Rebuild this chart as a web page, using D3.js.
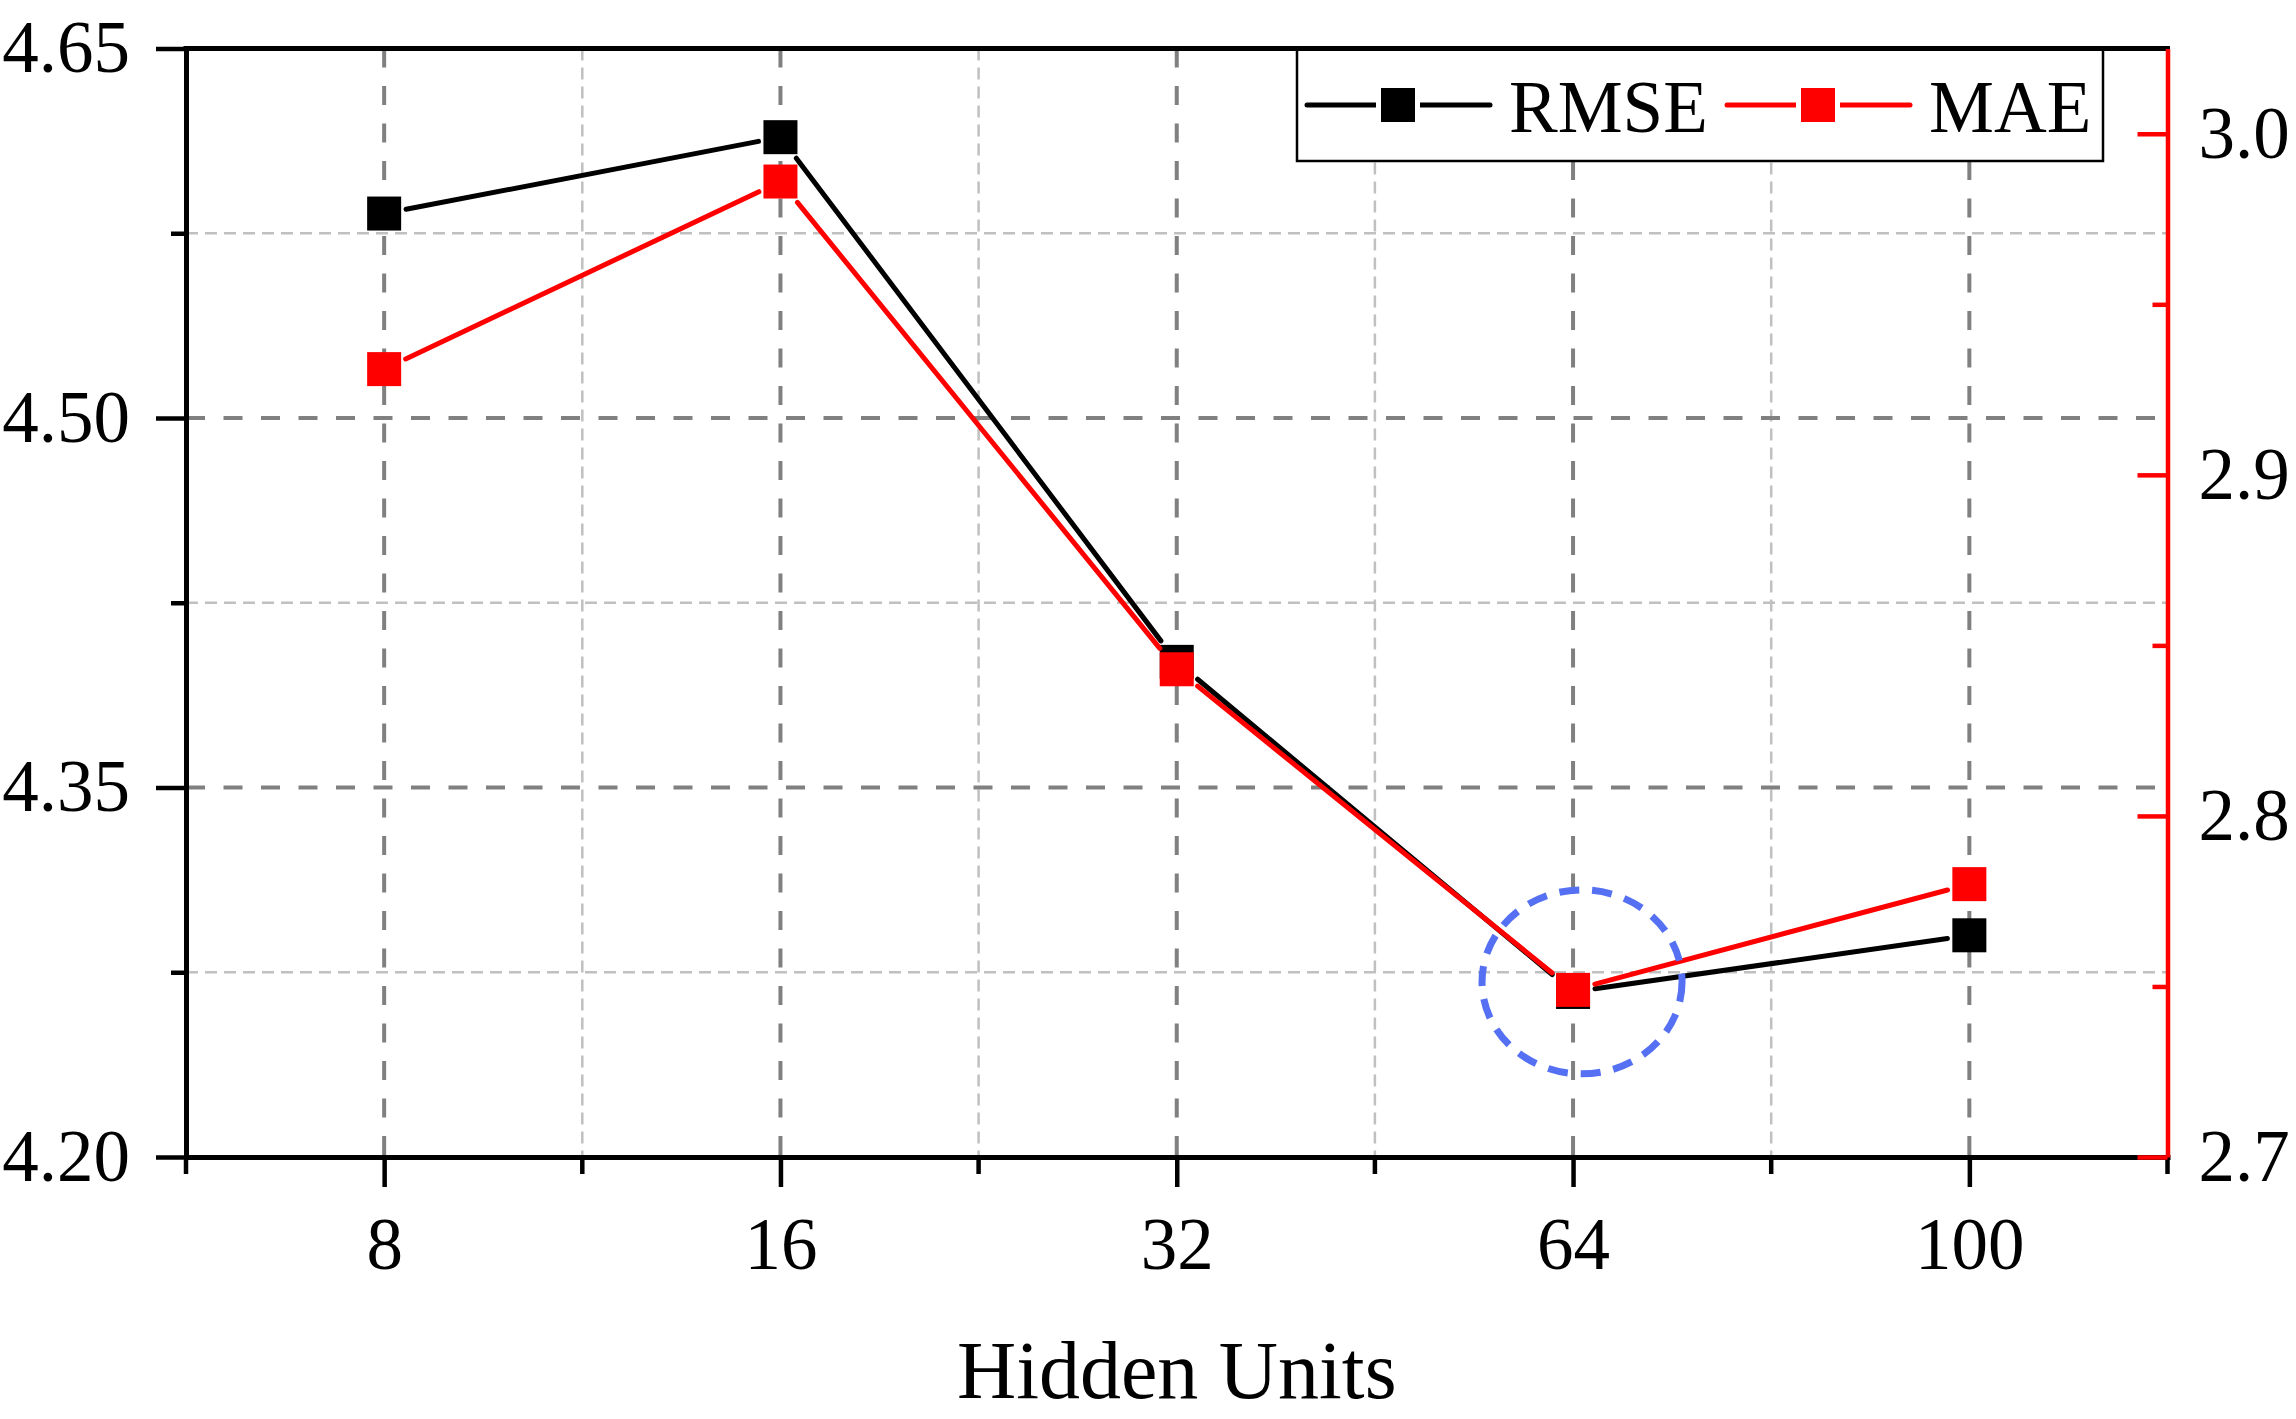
<!DOCTYPE html>
<html>
<head>
<meta charset="utf-8">
<script src="https://cdn.jsdelivr.net/npm/d3@7"></script>
<style>
  body { margin: 0; background: #fff; }
  svg { display: block; }
  text { font-family: "Liberation Serif", "Times New Roman", serif; fill: #000; }
</style>
</head>
<body>
<svg id="chart" width="2296" height="1419"></svg>
<script>
// values
var categories = ["8", "16", "32", "64", "100"];
var rmse = [4.583, 4.614, 4.401, 4.267, 4.290];
var mae = [2.931, 2.986, 2.843, 2.749, 2.780];

var leftTicks = [4.20, 4.35, 4.50, 4.65];
var leftMinor = [4.275, 4.425, 4.575];
var rightTicks = [2.7, 2.8, 2.9, 3.0];
var rightMinor = [2.75, 2.85, 2.95];

var seriesNames = ["RMSE", "MAE"];
var seriesColors = ["#000000", "#ff0000"];
var highlight = "64";

var svg = d3.select("#chart");

var plotL = 186, plotR = 2167.5, plotT = 48.5, plotB = 1157;
var half = 17, gap = 5;

var x = d3.scalePoint().domain(categories).range([plotL, plotR]).padding(0.5);
var yL = d3.scaleLinear().domain([4.20, 4.65]).range([plotB, plotT]);
var yR = d3.scaleLinear().domain([2.7, 3.025]).range([plotB, plotT]);

var minorX = categories.map(function(c) { return x(c) - x.step() / 2; });
var innerMinorX = minorX.slice(1);
minorX.push(plotR);

// grid
var grid = svg.append("g");

grid.selectAll(".vminor").data(innerMinorX).enter().append("line")
  .attr("x1", function(d) { return d; }).attr("x2", function(d) { return d; })
  .attr("y1", plotT).attr("y2", plotB)
  .attr("stroke", "#c0c0c0").attr("stroke-width", 2.5).attr("stroke-dasharray", "12 7");

grid.selectAll(".hminor").data(leftMinor).enter().append("line")
  .attr("x1", plotL).attr("x2", plotR)
  .attr("y1", function(d) { return yL(d); }).attr("y2", function(d) { return yL(d); })
  .attr("stroke", "#c0c0c0").attr("stroke-width", 2.5).attr("stroke-dasharray", "12 7");

grid.selectAll(".vmajor").data(categories).enter().append("line")
  .attr("x1", function(d) { return x(d); }).attr("x2", function(d) { return x(d); })
  .attr("y1", plotT).attr("y2", plotB)
  .attr("stroke", "#808080").attr("stroke-width", 4).attr("stroke-dasharray", "19 18.5");

grid.selectAll(".hmajor").data(leftTicks.slice(1, -1)).enter().append("line")
  .attr("x1", plotL).attr("x2", plotR)
  .attr("y1", function(d) { return yL(d); }).attr("y2", function(d) { return yL(d); })
  .attr("stroke", "#808080").attr("stroke-width", 4).attr("stroke-dasharray", "19 18.5");

// series
var trim = function(a, b) {
  var dx = b[0] - a[0], dy = b[1] - a[1];
  var len = Math.sqrt(dx * dx + dy * dy);
  var ux = dx / len, uy = dy / len;
  var d = half / Math.max(Math.abs(ux), Math.abs(uy)) + gap;
  return [a[0] + ux * d, a[1] + uy * d, b[0] - ux * d, b[1] - uy * d];
};

var drawSeries = function(vals, yScale, color) {
  var layer = svg.append("g");
  var pts = categories.map(function(c, i) { return [x(c), yScale(vals[i])]; });
  var segs = d3.pairs(pts).map(function(p) { return trim(p[0], p[1]); });

  layer.selectAll("line").data(segs).enter().append("line")
    .attr("x1", function(s) { return s[0]; }).attr("y1", function(s) { return s[1]; })
    .attr("x2", function(s) { return s[2]; }).attr("y2", function(s) { return s[3]; })
    .attr("stroke", color).attr("stroke-width", 5).attr("stroke-linecap", "round");

  layer.selectAll("rect").data(pts).enter().append("rect")
    .attr("x", function(p) { return p[0] - half; })
    .attr("y", function(p) { return p[1] - half; })
    .attr("width", half * 2).attr("height", half * 2)
    .attr("fill", color);
};

drawSeries(rmse, yL, seriesColors[0]);
drawSeries(mae, yR, seriesColors[1]);

// highlight ring around the minimum
var hi = categories.indexOf(highlight);
svg.append("ellipse")
  .attr("cx", x(highlight) + 9)
  .attr("cy", yR(mae[hi]) - 8)
  .attr("rx", 100).attr("ry", 92)
  .attr("fill", "none")
  .attr("stroke", "#5570f2").attr("stroke-width", 7)
  .attr("stroke-dasharray", "20 13");

// legend
var legendX = 1297, legendY = 49;
var legend = svg.append("g");
legend.append("rect")
  .attr("x", legendX).attr("y", legendY)
  .attr("width", 806).attr("height", 112)
  .attr("fill", "#fff").attr("stroke", "#000").attr("stroke-width", 2.5);

var item = legend.selectAll(".item").data(seriesNames).enter().append("g")
  .attr("transform", function(d, i) { return "translate(" + (legendX + 10 + i * 420) + "," + (legendY + 56) + ")"; });

item.append("line").attr("x1", 0).attr("x2", 183).attr("y1", 0).attr("y2", 0)
  .attr("stroke", function(d, i) { return seriesColors[i]; })
  .attr("stroke-width", 5).attr("stroke-linecap", "round");
item.append("rect").attr("x", 91 - half - gap).attr("y", -half - 3)
  .attr("width", (half + gap) * 2).attr("height", half * 2 + 6).attr("fill", "#fff");
item.append("rect").attr("x", 91 - half).attr("y", -half)
  .attr("width", half * 2).attr("height", half * 2)
  .attr("fill", function(d, i) { return seriesColors[i]; });
item.append("text").attr("x", 202).attr("y", 27)
  .style("font-size", "73px")
  .text(function(d) { return d; });

// axes
var styleAxis = function(g, color, labelSize) {
  g.selectAll(".domain").attr("stroke", color).attr("stroke-width", 5).attr("stroke-linecap", "square");
  g.selectAll(".tick line").attr("stroke", color).attr("stroke-width", 4.5);
  g.selectAll(".tick text").attr("fill", "#000").style("font-size", labelSize)
    .style("font-family", "'Liberation Serif', 'Times New Roman', serif");
};

var gBottom = svg.append("g").attr("transform", "translate(0," + plotB + ")")
  .call(d3.axisBottom(x).tickSize(30).tickSizeOuter(0).tickPadding(30));
styleAxis(gBottom, "#000", "73px");
gBottom.selectAll(".minor").data(minorX).enter().append("line")
  .attr("x1", function(d) { return d; }).attr("x2", function(d) { return d; })
  .attr("y1", 0).attr("y2", 17)
  .attr("stroke", "#000").attr("stroke-width", 4.5);

var gLeft = svg.append("g").attr("transform", "translate(" + plotL + ",0)")
  .call(d3.axisLeft(yL).tickValues(leftTicks).tickFormat(d3.format(".2f"))
    .tickSize(30).tickSizeOuter(0).tickPadding(26));
styleAxis(gLeft, "#000", "73px");
var gLeftMinor = svg.append("g").attr("transform", "translate(" + plotL + ",0)")
  .call(d3.axisLeft(yL).tickValues(leftMinor).tickFormat("").tickSize(15).tickSizeOuter(0));
gLeftMinor.select(".domain").remove();
styleAxis(gLeftMinor, "#000", "73px");

svg.append("line")
  .attr("x1", plotL).attr("x2", plotR).attr("y1", plotT).attr("y2", plotT)
  .attr("stroke", "#000").attr("stroke-width", 5).attr("stroke-linecap", "square");

var gRight = svg.append("g").attr("transform", "translate(" + plotR + ",0)")
  .call(d3.axisRight(yR).tickValues(rightTicks).tickFormat(d3.format(".1f"))
    .tickSize(-30).tickSizeOuter(0).tickPadding(31));
styleAxis(gRight, "#ff0000", "73px");
gRight.select(".domain").attr("stroke-width", 4.5).attr("stroke-linecap", "butt");
var gRightMinor = svg.append("g").attr("transform", "translate(" + plotR + ",0)")
  .call(d3.axisRight(yR).tickValues(rightMinor).tickFormat("").tickSize(-15).tickSizeOuter(0));
gRightMinor.select(".domain").remove();
styleAxis(gRightMinor, "#ff0000", "73px");

// axis title
svg.append("text")
  .attr("x", (plotL + plotR) / 2).attr("y", 1398)
  .attr("text-anchor", "middle")
  .style("font-size", "82px")
  .text("Hidden Units");
</script>
</body>
</html>
